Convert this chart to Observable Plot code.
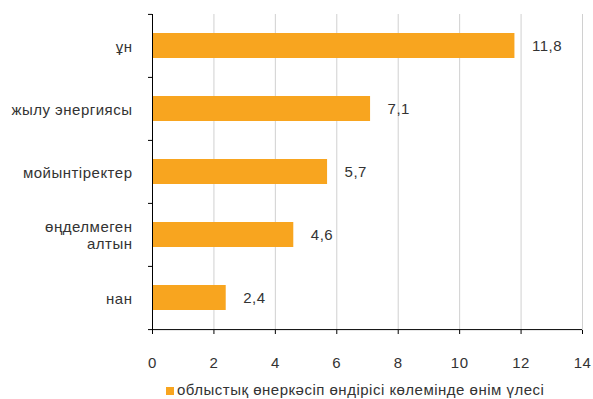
<!DOCTYPE html>
<html>
<head>
<meta charset="utf-8">
<script src="https://cdn.jsdelivr.net/npm/d3@7"></script>
<script src="https://cdn.jsdelivr.net/npm/@observablehq/plot@0.6"></script>
<style>
  html, body { margin: 0; padding: 0; background: #fff; }
  #chart { width: 593px; height: 399px; overflow: hidden; font-family: "Liberation Sans", Arial, sans-serif; }
  #legend { height: 18px; line-height: 18px; font-size: 15px; letter-spacing: 0.5px; color: #333; padding-left: 166px; white-space: nowrap; }
  #legend .sw { display: inline-block; width: 8px; height: 8px; background: #F8A51F; margin-right: 3px; }
</style>
</head>
<body>
<div id="chart"></div>
<script>
const categories = ["ұн", "жылу энергиясы", "мойынтіректер", "өңделмеген алтын", "нан"];
const values = [11.8, 7.1, 5.7, 4.6, 2.4];
const xTicks = [0, 2, 4, 6, 8, 10, 12, 14];
const legendLabel = "облыстық өнеркәсіп өндірісі көлемінде өнім үлесі";
const labelLines = {"өңделмеген алтын": "өңделмеген\nалтын"};

const data = categories.map((c, i) => ({cat: c, value: values[i]}));
const fmt = v => String(v).replace(".", ",");

const W = 593, H = 381, mTop = 14, mBottom = 51;
const step = (H - mTop - mBottom) / categories.length;
const last = categories[categories.length - 1];

const chart = Plot.plot({
  width: W,
  height: H,
  marginLeft: 152,
  marginRight: 11,
  marginTop: mTop,
  marginBottom: mBottom,
  style: {fontFamily: "'Liberation Sans', Arial, sans-serif", fontSize: "15px", letterSpacing: "0.5px", color: "#333", background: "#fff"},
  x: {domain: [0, 14], ticks: xTicks},
  y: {domain: categories, paddingInner: 0.6, paddingOuter: 0.3},
  marks: [
    Plot.gridX(xTicks.filter(t => t > 0), {stroke: "#d0d0d0", strokeOpacity: 1}),
    Plot.barX(data, {x: "value", y: "cat", fill: "#F8A51F"}),
    Plot.text(data, {x: "value", y: "cat", text: d => fmt(d.value), textAnchor: "start", dx: 17, fill: "#333", fontSize: 15}),
    Plot.ruleX([0], {stroke: "#000"}),
    Plot.ruleY([last], {y: d => d, dy: step / 2, stroke: "#000"}),
    Plot.ruleY(categories, {y: d => d, x1: -4 / 30.79, x2: 0, dy: -step / 2, stroke: "#000"}),
    Plot.ruleY([last], {y: d => d, x1: -4 / 30.79, x2: 0, dy: step / 2, stroke: "#000"}),
    Plot.axisX({ticks: xTicks, tickSize: 4, tickPadding: 23, label: null, fill: "#333", stroke: "#000", fontSize: 15}),
    Plot.axisY({tickSize: 0, tickPadding: 20, label: null, fill: "#333", fontSize: 15, lineHeight: 1.15,
      tickFormat: d => labelLines[d] || d})
  ]
});

const root = document.getElementById("chart");
root.appendChild(chart);
const legend = document.createElement("div");
legend.id = "legend";
legend.innerHTML = '<span class="sw"></span>';
legend.appendChild(document.createTextNode(legendLabel));
root.appendChild(legend);
</script>
</body>
</html>
